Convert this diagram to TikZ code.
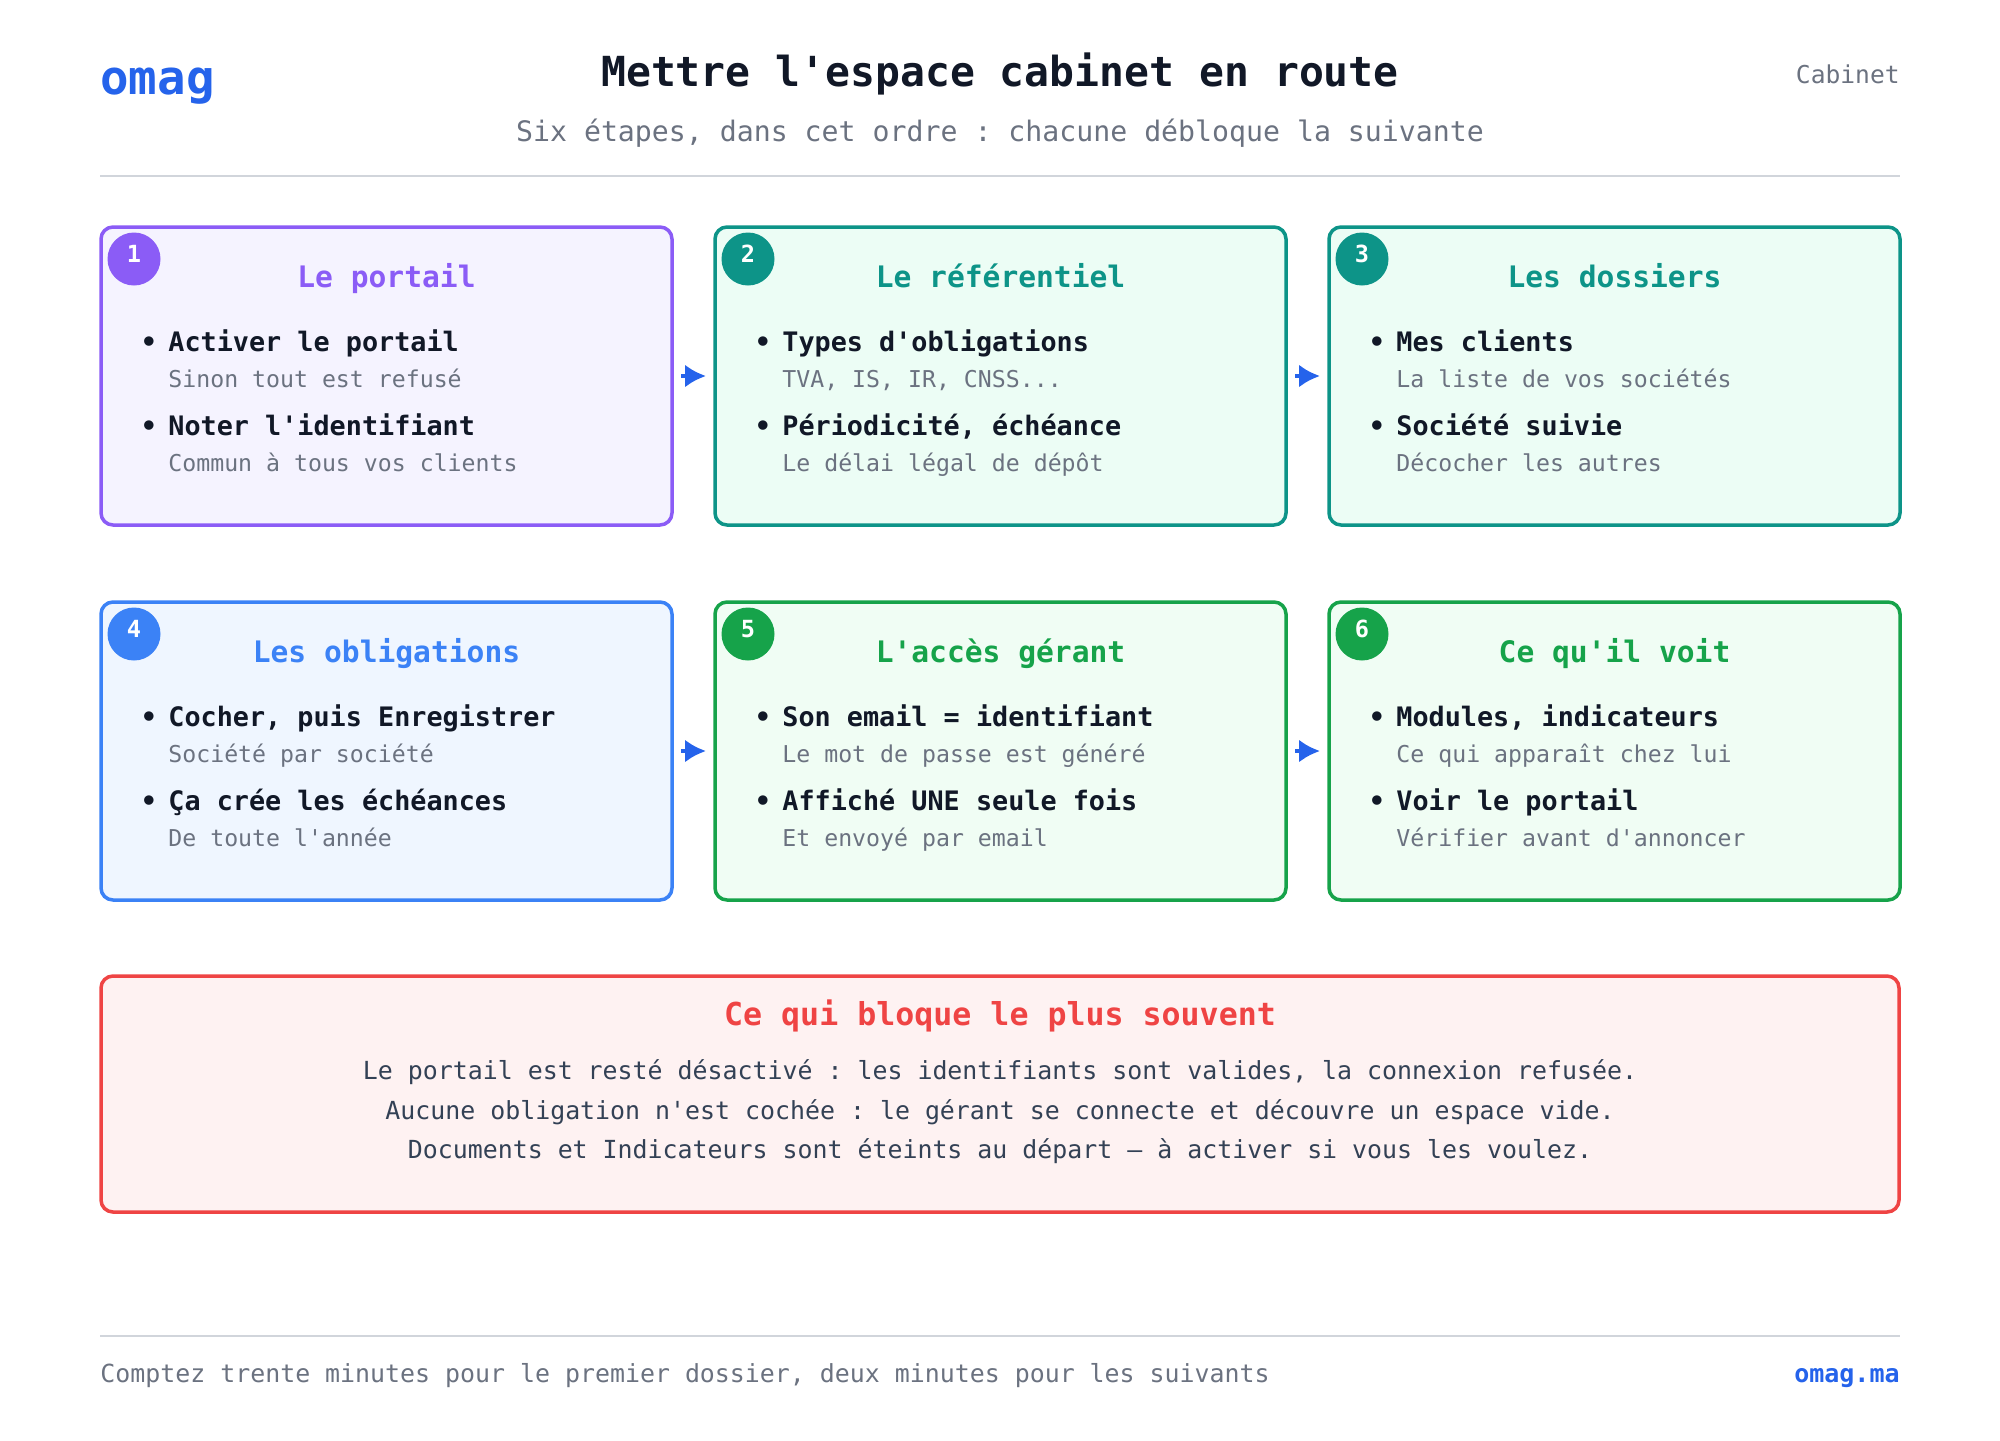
\documentclass[tikz,border=0pt]{standalone}
\usepackage{fontspec}
\setmonofont{DejaVu Sans Mono}
\renewcommand{\familydefault}{\ttdefault}
\usetikzlibrary{arrows.meta}

\definecolor{mauve}{HTML}{8B5CF6}
\definecolor{mauvefond}{HTML}{F5F3FF}
\definecolor{sarcelle}{HTML}{0D9488}
\definecolor{sarcellefond}{HTML}{ECFDF5}
\definecolor{bleu}{HTML}{3B82F6}
\definecolor{bleufond}{HTML}{EFF6FF}
\definecolor{vert}{HTML}{16A34A}
\definecolor{vertfond}{HTML}{F0FDF4}
\definecolor{rouge}{HTML}{EF4444}
\definecolor{rougefond}{HTML}{FEF2F2}
\definecolor{encre}{HTML}{111827}
\definecolor{ardoise}{HTML}{334155}
\definecolor{gris}{HTML}{6B7280}
\definecolor{filet}{HTML}{D1D5DB}
\definecolor{lien}{HTML}{2563EB}

\begin{document}
\begin{tikzpicture}[x=0.5pt, y=-0.5pt]
\tikzset{etape/.style={draw, line width=1.75pt, rounded corners=6pt, minimum width=285.5pt, minimum height=149pt, inner sep=0pt, outer sep=0pt, anchor=north west},
pastille/.style={circle, minimum size=26.5pt, inner sep=0pt},
chiffre/.style={anchor=base, inner sep=0pt, text=white, font=\fontsize{11.8}{14}\selectfont\bfseries},
titre/.style={anchor=base, inner sep=0pt, font=\fontsize{14.8}{18}\selectfont\bfseries},
puce/.style={anchor=base, inner sep=0pt, text=encre, font=\fontsize{13.4}{16}\selectfont\bfseries},
point/.style={anchor=base west, inner sep=0pt, text=encre, font=\fontsize{13.4}{16}\selectfont\bfseries},
detail/.style={anchor=base west, inner sep=0pt, text=gris, font=\fontsize{11.6}{14}\selectfont},
fleche/.style={-{Latex[length=10.5pt, width=11.5pt]}, line width=2pt, draw=lien, shorten <=4.5pt, shorten >=4.5pt}}
\fill[white] (0,0) rectangle (2000,1440);
\useasboundingbox (0,0) rectangle (2000,1440);

% en-tete
\node[anchor=base west, inner sep=0pt, text=lien, font=\fontsize{23.7}{28}\selectfont\bfseries] (logo) at (100,94) {omag};
\node[anchor=base, inner sep=0pt, text=encre, font=\fontsize{20.7}{25}\selectfont\bfseries] (titre) at (1000,86) {Mettre l'espace cabinet en route};
\node[anchor=base east, inner sep=0pt, text=gris, font=\fontsize{12.3}{15}\selectfont] (cabinet) at (1900,83) {Cabinet};
\node[anchor=base, inner sep=0pt, text=gris, font=\fontsize{14.1}{17}\selectfont] (soustitre) at (1000,141) {Six étapes, dans cet ordre : chacune débloque la suivante};
\draw[filet, line width=1pt] (100,176) -- (1900,176);

% etape 1
\node[etape, draw=mauve, fill=mauvefond] (portail) at (101,227) {};
\node[pastille, fill=mauve] (p1) at (134,259) {};
\node[chiffre] (c1) at (134,262) {1};
\node[titre, text=mauve] (t1) at (386.5,287) {Le portail};
\node[puce] (b1a) at (149,351) {•};
\node[point] (l1a) at (168,351) {Activer le portail};
\node[detail] (d1a) at (168,387) {Sinon tout est refusé};
\node[puce] (b1b) at (149,435) {•};
\node[point] (l1b) at (168,435) {Noter l'identifiant};
\node[detail] (d1b) at (168,471) {Commun à tous vos clients};

% etape 2
\node[etape, draw=sarcelle, fill=sarcellefond] (referentiel) at (715,227) {};
\node[pastille, fill=sarcelle] (p2) at (748,259) {};
\node[chiffre] (c2) at (748,262) {2};
\node[titre, text=sarcelle] (t2) at (1000.5,287) {Le référentiel};
\node[puce] (b2a) at (763,351) {•};
\node[point] (l2a) at (782,351) {Types d'obligations};
\node[detail] (d2a) at (782,387) {TVA, IS, IR, CNSS...};
\node[puce] (b2b) at (763,435) {•};
\node[point] (l2b) at (782,435) {Périodicité, échéance};
\node[detail] (d2b) at (782,471) {Le délai légal de dépôt};

% etape 3
\node[etape, draw=sarcelle, fill=sarcellefond] (dossiers) at (1329,227) {};
\node[pastille, fill=sarcelle] (p3) at (1362,259) {};
\node[chiffre] (c3) at (1362,262) {3};
\node[titre, text=sarcelle] (t3) at (1614.5,287) {Les dossiers};
\node[puce] (b3a) at (1377,351) {•};
\node[point] (l3a) at (1396,351) {Mes clients};
\node[detail] (d3a) at (1396,387) {La liste de vos sociétés};
\node[puce] (b3b) at (1377,435) {•};
\node[point] (l3b) at (1396,435) {Société suivie};
\node[detail] (d3b) at (1396,471) {Décocher les autres};

% etape 4
\node[etape, draw=bleu, fill=bleufond] (obligations) at (101,602) {};
\node[pastille, fill=bleu] (p4) at (134,634) {};
\node[chiffre] (c4) at (134,637) {4};
\node[titre, text=bleu] (t4) at (386.5,662) {Les obligations};
\node[puce] (b4a) at (149,726) {•};
\node[point] (l4a) at (168,726) {Cocher, puis Enregistrer};
\node[detail] (d4a) at (168,762) {Société par société};
\node[puce] (b4b) at (149,810) {•};
\node[point] (l4b) at (168,810) {Ça crée les échéances};
\node[detail] (d4b) at (168,846) {De toute l'année};

% etape 5
\node[etape, draw=vert, fill=vertfond] (acces) at (715,602) {};
\node[pastille, fill=vert] (p5) at (748,634) {};
\node[chiffre] (c5) at (748,637) {5};
\node[titre, text=vert] (t5) at (1000.5,662) {L'accès gérant};
\node[puce] (b5a) at (763,726) {•};
\node[point] (l5a) at (782,726) {Son email = identifiant};
\node[detail] (d5a) at (782,762) {Le mot de passe est généré};
\node[puce] (b5b) at (763,810) {•};
\node[point] (l5b) at (782,810) {Affiché UNE seule fois};
\node[detail] (d5b) at (782,846) {Et envoyé par email};

% etape 6
\node[etape, draw=vert, fill=vertfond] (vue) at (1329,602) {};
\node[pastille, fill=vert] (p6) at (1362,634) {};
\node[chiffre] (c6) at (1362,637) {6};
\node[titre, text=vert] (t6) at (1614.5,662) {Ce qu'il voit};
\node[puce] (b6a) at (1377,726) {•};
\node[point] (l6a) at (1396,726) {Modules, indicateurs};
\node[detail] (d6a) at (1396,762) {Ce qui apparaît chez lui};
\node[puce] (b6b) at (1377,810) {•};
\node[point] (l6b) at (1396,810) {Voir le portail};
\node[detail] (d6b) at (1396,846) {Vérifier avant d'annoncer};

\draw[fleche] (portail) -- (referentiel);
\draw[fleche] (referentiel) -- (dossiers);
\draw[fleche] (obligations) -- (acces);
\draw[fleche] (acces) -- (vue);

% encadre rouge
\node[draw=rouge, fill=rougefond, line width=1.75pt, rounded corners=6pt, minimum width=899pt, minimum height=118pt, inner sep=0pt, outer sep=0pt, anchor=north west] (blocage) at (101,976) {};
\node[anchor=base, inner sep=0pt, text=rouge, font=\fontsize{15.8}{19}\selectfont\bfseries] (tb) at (1000,1025) {Ce qui bloque le plus souvent};
\node[anchor=base, inner sep=0pt, text=ardoise, font=\fontsize{12.45}{15}\selectfont] (e1) at (1000,1079) {Le portail est resté désactivé : les identifiants sont valides, la connexion refusée.};
\node[anchor=base, inner sep=0pt, text=ardoise, font=\fontsize{12.45}{15}\selectfont] (e2) at (1000,1119) {Aucune obligation n'est cochée : le gérant se connecte et découvre un espace vide.};
\node[anchor=base, inner sep=0pt, text=ardoise, font=\fontsize{12.45}{15}\selectfont] (e3) at (1000,1158) {Documents et Indicateurs sont éteints au départ — à activer si vous les voulez.};

% pied
\draw[filet, line width=1pt] (100,1336) -- (1900,1336);
\node[anchor=base west, inner sep=0pt, text=gris, font=\fontsize{12.45}{15}\selectfont] (pied) at (100,1382) {Comptez trente minutes pour le premier dossier, deux minutes pour les suivants};
\node[anchor=base east, inner sep=0pt, text=lien, font=\fontsize{12.5}{15}\selectfont\bfseries] (site) at (1900,1382) {omag.ma};
\end{tikzpicture}
\end{document}
